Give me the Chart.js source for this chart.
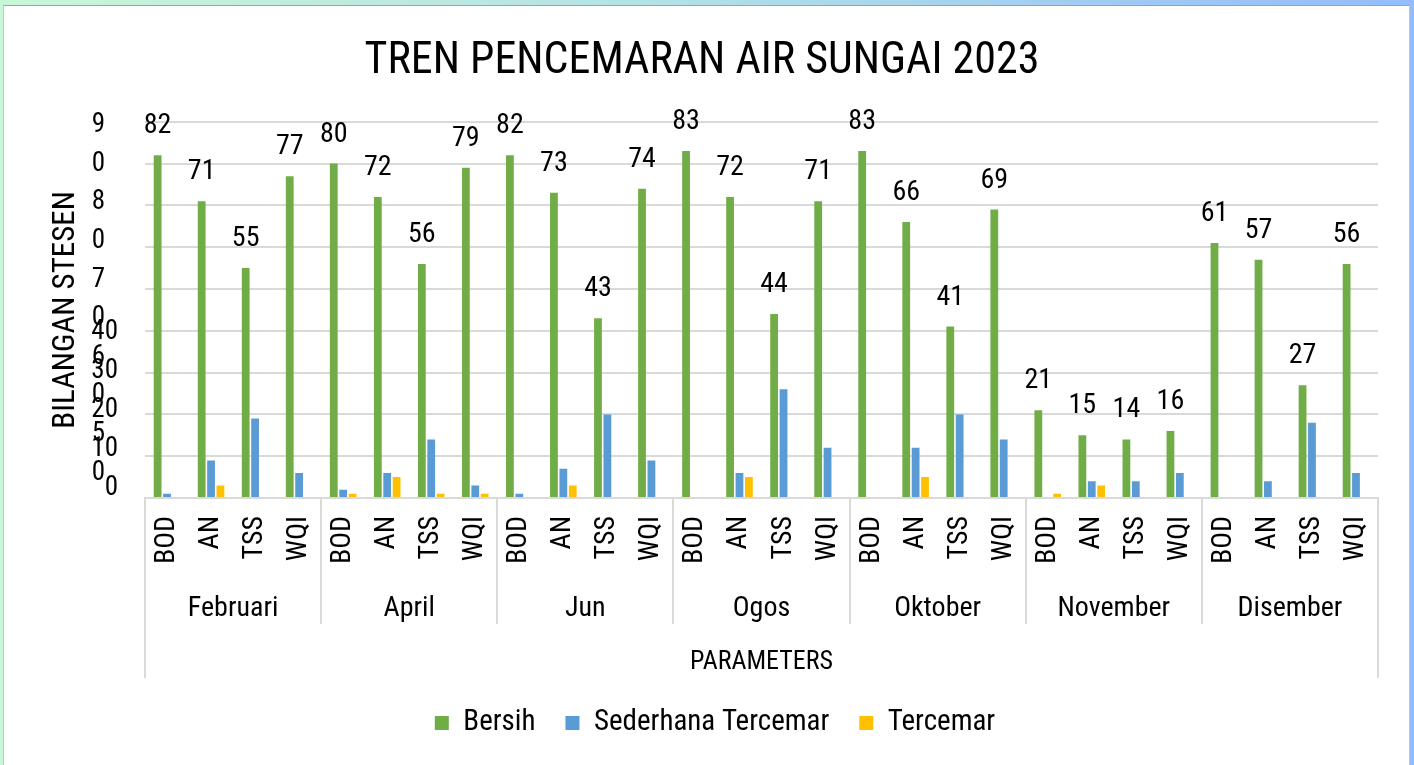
<!DOCTYPE html>
<html>
<head>
<meta charset="utf-8">
<script src="https://cdn.jsdelivr.net/npm/chart.js@4.4.1/dist/chart.umd.min.js"></script>
<style>
html,body{margin:0;padding:0;width:1414px;height:765px;overflow:hidden;
  background:linear-gradient(90deg,#c7f7d7 0%,#b5e2e5 45%,#93bcfc 100%);}
#panel{position:absolute;left:3px;top:5px;width:1405px;height:790px;background:#fff;
  border:1px solid #c8c8c8;border-top:1px solid #9aa3ab;}
#wrap{position:absolute;left:0;top:0;width:1414px;height:765px;}
</style>
</head>
<body>
<div id="panel"></div>
<div id="wrap"><canvas id="c" width="1414" height="765"></canvas></div>
<script>
// ---- data ----
const months = ['Februari','April','Jun','Ogos','Oktober','November','Disember'];
const parameters = ['BOD','AN','TSS','WQI'];
const categories = [
  'BOD','AN','TSS','WQI', 'BOD','AN','TSS','WQI', 'BOD','AN','TSS','WQI',
  'BOD','AN','TSS','WQI', 'BOD','AN','TSS','WQI', 'BOD','AN','TSS','WQI',
  'BOD','AN','TSS','WQI'
];
const bersih            = [82,71,55,77, 80,72,56,79, 82,73,43,74, 83,72,44,71, 83,66,41,69, 21,15,14,16, 61,57,27,56];
const sederhanaTercemar = [ 1, 9,19, 6,  2, 6,14, 3,  1, 7,20, 9,  0, 6,26,12,  0,12,20,14,  0, 4, 4, 6,  0, 4,18, 6];
const tercemar          = [ 0, 3, 0, 0,  1, 5, 1, 1,  0, 3, 0, 0,  0, 5, 0, 0,  0, 5, 0, 0,  1, 3, 0, 0,  0, 0, 0, 0];
// garbled y-axis tick texts as seen in the reference (bottom to top)
const yLeftLabels  = ['0','5','0','6','0','7','0','8','0','9'];
const yRightLabels = ['0','10','20','30','40'];

const FONT = '"Liberation Sans Narrow","Arial Narrow","Roboto Condensed","DejaVu Sans Condensed","Liberation Sans",sans-serif';
Chart.defaults.font.family = FONT;
Chart.defaults.color = '#000';

const barValueLabels = {
  id: 'barValueLabels',
  afterDatasetsDraw(chart) {
    const meta = chart.getDatasetMeta(0);
    const ds = chart.data.datasets[0];
    const ctx = chart.ctx;
    ctx.save();
    ctx.font = '28px ' + FONT;
    ctx.fillStyle = '#000';
    ctx.textAlign = 'center';
    ctx.textBaseline = 'middle';
    meta.data.forEach((bar, i) => {
      ctx.fillText(String(ds.data[i]), bar.x, bar.y - 29);
    });
    ctx.restore();
  }
};

const groupSeparators = {
  id: 'groupSeparators',
  afterDraw(chart) {
    const xs = chart.scales.x, x2 = chart.scales.x2, ctx = chart.ctx;
    const n = categories.length, per = parameters.length;
    ctx.save();
    ctx.strokeStyle = '#d9d9d9';
    ctx.lineWidth = 2;
    for (let b = 0; b <= n; b += per) {
      const px = b === 0 ? xs.left : (b === n ? xs.right :
        (xs.getPixelForValue(b - 1) + xs.getPixelForValue(b)) / 2);
      const outer = (b === 0 || b === n);
      const yEnd = outer ? x2.bottom - 8 : x2.top + 44;
      ctx.beginPath();
      ctx.moveTo(Math.round(px), chart.chartArea.bottom);
      ctx.lineTo(Math.round(px), yEnd);
      ctx.stroke();
    }
    ctx.restore();
  }
};

const boxPlace = {
  id: 'boxPlace',
  afterLayout(chart) {
    const lg = chart.legend;
    lg.right += 52;
    lg.top -= 7.5;
    lg.bottom -= 7.5;
    chart.titleBlock.right += 26;
    // let the inner tick column overflow leftwards, as in the reference
    chart.scales.yr.left = chart.scales.yl.left + 60;
  }
};

new Chart(document.getElementById('c'), {
  type: 'bar',
  data: {
    labels: categories,
    datasets: [
      { label: 'Bersih', data: bersih, backgroundColor: '#70AD47' },
      { label: 'Sederhana Tercemar', data: sederhanaTercemar, backgroundColor: '#5B9BD5' },
      { label: 'Tercemar', data: tercemar, backgroundColor: '#FFC000' }
    ]
  },
  options: {
    responsive: false,
    animation: false,
    devicePixelRatio: 1,
    categoryPercentage: 0.64,
    barPercentage: 0.83,
    layout: { padding: { top: 10, left: 0, right: 36, bottom: 10 } },
    plugins: {
      title: {
        display: true,
        text: 'TREN PENCEMARAN AIR SUNGAI 2023',
        font: { size: 44, weight: 'normal' },
        color: '#000',
        padding: { top: 26, bottom: 33 }
      },
      legend: {
        position: 'bottom',
        labels: { font: { size: 29 }, color: '#000', boxWidth: 14, boxHeight: 14, padding: 30 }
      },
      tooltip: { enabled: false }
    },
    scales: {
      x: {
        type: 'category',
        position: 'bottom',
        weight: 0,
        offset: true,
        grid: { display: false, drawTicks: false },
        border: { display: true, color: '#d9d9d9', width: 2 },
        ticks: { autoSkip: false, minRotation: 90, maxRotation: 90, padding: 18, font: { size: 28 }, color: '#000' },
        afterFit(s) { s.height = 82; }
      },
      x2: {
        type: 'category',
        labels: months,
        position: 'bottom',
        weight: 1,
        offset: true,
        grid: { display: false, drawTicks: false },
        border: { display: false },
        ticks: { padding: 12, font: { size: 28 }, color: '#000' },
        title: { display: true, text: 'PARAMETERS', font: { size: 26 }, color: '#000', padding: { top: 0, bottom: 8 } },
        afterFit(s) { s.height = 106; }
      },
      y: {
        position: 'left',
        weight: 0,
        min: 0, max: 90,
        ticks: { display: false, stepSize: 10 },
        grid: { color: '#d9d9d9', lineWidth: 2, drawTicks: false },
        border: { display: false },
        afterFit(s) { s.width = 0; }
      },
      yr: {
        type: 'linear',
        position: 'left',
        weight: 1,
        min: -0.2564, max: 9.385,
        grid: { display: false, drawTicks: false },
        border: { display: false },
        ticks: { stepSize: 1, includeBounds: false, autoSkip: false, padding: 27, font: { size: 27 }, color: '#000',
          callback: (v) => (yRightLabels[v] !== undefined ? yRightLabels[v] : '') },
        afterFit(s) { s.width = 40; }
      },
      yl: {
        type: 'linear',
        position: 'left',
        weight: 2,
        min: -0.6477, max: 9.093,
        grid: { display: false, drawTicks: false },
        border: { display: false },
        ticks: { stepSize: 1, includeBounds: false, autoSkip: false, padding: 0, font: { size: 27 }, color: '#000',
          callback: (v) => (yLeftLabels[v] !== undefined ? yLeftLabels[v] : '') },
        title: { display: true, text: 'BILANGAN STESEN', font: { size: 31 }, color: '#000', padding: { top: 48, bottom: 0 } },
        afterFit(s) { s.width = 105; }
      }
    }
  },
  plugins: [barValueLabels, groupSeparators, boxPlace]
});
</script>
</body>
</html>
